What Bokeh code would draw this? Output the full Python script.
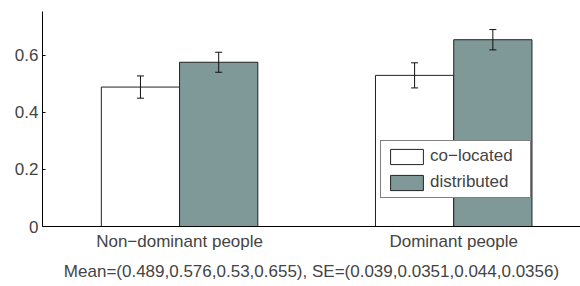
from bokeh.plotting import figure
from bokeh.models import ColumnDataSource, Range1d, FixedTicker, Whisker, TeeHead
from bokeh.embed import file_html
from bokeh.resources import INLINE

# ---- data ----
groups = ["Non\u2212dominant people", "Dominant people"]
series = ["co\u2212located", "distributed"]
colocated_mean = [0.489, 0.53]
distributed_mean = [0.576, 0.655]
colocated_se = [0.039, 0.044]
distributed_se = [0.0351, 0.0356]
y_ticks = [0, 0.2, 0.4, 0.6]
y_tick_labels = ["0", "0.2", "0.4", "0.6"]

FONT = "Liberation Sans"
FS = "17px"
TEAL = "#7f9999"
bar_w = 0.2854
group_x = [i + 1 for i in range(len(groups))]

means_all = [colocated_mean[0], distributed_mean[0], colocated_mean[1], distributed_mean[1]]
se_all = [colocated_se[0], distributed_se[0], colocated_se[1], distributed_se[1]]
xlabel = "Mean=(" + ",".join(str(v) for v in means_all) + "), SE=(" + ",".join(str(v) for v in se_all) + ")"

p = figure(width=580, height=286, output_backend="svg", toolbar_location=None,
           x_range=Range1d(0.5, 2.4624), y_range=Range1d(0, 0.754),
           min_border_left=42, min_border_top=11, min_border_right=0, min_border_bottom=60)
p.outline_line_color = None
p.grid.visible = False
p.background_fill_color = "white"
p.border_fill_color = "white"

src_c = ColumnDataSource(dict(x=[g - bar_w / 2 for g in group_x], top=colocated_mean,
                              upper=[m + s for m, s in zip(colocated_mean, colocated_se)],
                              lower=[m - s for m, s in zip(colocated_mean, colocated_se)]))
src_d = ColumnDataSource(dict(x=[g + bar_w / 2 for g in group_x], top=distributed_mean,
                              upper=[m + s for m, s in zip(distributed_mean, distributed_se)],
                              lower=[m - s for m, s in zip(distributed_mean, distributed_se)]))

p.vbar(x="x", top="top", width=bar_w, source=src_c, fill_color="white",
       line_color="#222222", line_width=1, legend_label=series[0])
p.vbar(x="x", top="top", width=bar_w, source=src_d, fill_color=TEAL,
       line_color="#222222", line_width=1, legend_label=series[1])

for src in (src_c, src_d):
    w = Whisker(base="x", upper="upper", lower="lower", source=src,
                line_color="#111111", line_width=1, level="overlay",
                upper_head=TeeHead(size=7, line_color="#111111", line_width=1),
                lower_head=TeeHead(size=7, line_color="#111111", line_width=1))
    p.add_layout(w)

# axes
p.yaxis.ticker = FixedTicker(ticks=y_ticks)
p.yaxis.major_label_overrides = {t: l for t, l in zip(y_ticks, y_tick_labels)}
p.yaxis.major_tick_in = 3
p.yaxis.major_tick_out = 0
p.yaxis.minor_tick_line_color = None
p.yaxis.major_label_standoff = 4
p.yaxis.major_label_text_font = FONT
p.yaxis.major_label_text_font_size = FS
p.yaxis.axis_line_color = "black"
p.yaxis.major_tick_line_color = "black"

p.xaxis.ticker = FixedTicker(ticks=group_x)
p.xaxis.major_label_overrides = {g: n for g, n in zip(group_x, groups)}
p.xaxis.major_tick_in = 0
p.xaxis.major_tick_out = 0
p.xaxis.minor_tick_line_color = None
p.xaxis.major_label_standoff = 5
p.xaxis.major_label_text_font = FONT
p.xaxis.major_label_text_font_size = FS
p.xaxis.axis_line_color = "black"
p.xaxis.axis_label = xlabel
p.xaxis.axis_label_text_font = FONT
p.xaxis.axis_label_text_font_size = FS
p.xaxis.axis_label_text_font_style = "normal"
p.xaxis.axis_label_standoff = 8

# legend
lg = p.legend[0]
lg.location = (338, 28)
lg.margin = 0
lg.padding = 5
lg.spacing = 6
lg.glyph_width = 41
lg.glyph_height = 19
lg.label_height = 19
lg.label_width = 95
lg.label_standoff = 3
lg.label_text_font = FONT
lg.label_text_font_size = FS
lg.border_line_color = "black"
lg.border_line_width = 1
lg.background_fill_color = "white"
lg.background_fill_alpha = 1

open("out.html", "w").write(file_html(p, INLINE))
